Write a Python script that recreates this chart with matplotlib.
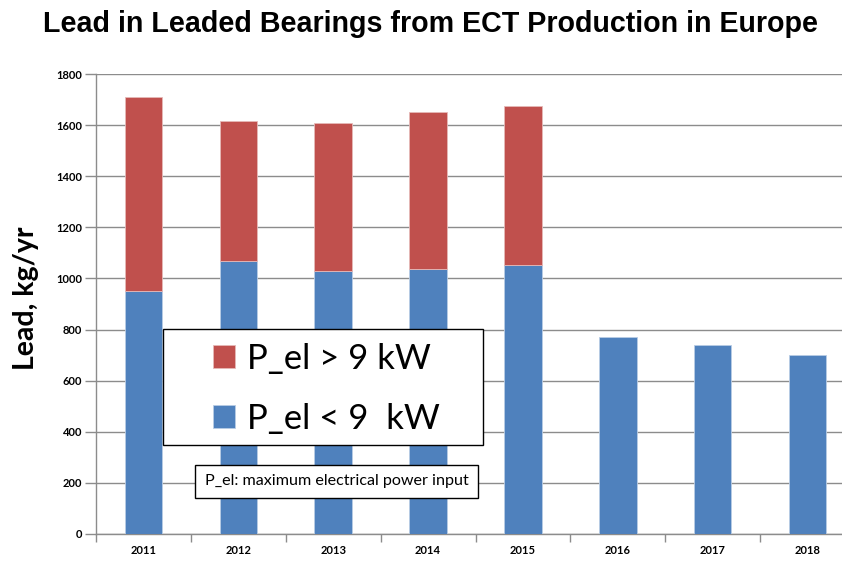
import matplotlib
matplotlib.use("Agg")
import matplotlib.pyplot as plt
from matplotlib.patches import Rectangle

years = ["2011", "2012", "2013", "2014", "2015", "2016", "2017", "2018"]
below_9kw = [951, 1069, 1028, 1036, 1052, 770, 739, 700]
above_9kw = [760, 548, 581, 614, 623, 0, 0, 0]
yticks = [0, 200, 400, 600, 800, 1000, 1200, 1400, 1600, 1800]

BLUE = "#4F81BD"
RED = "#C0504D"
GRID = "#8C8C8C"
W, H = 842, 561

fig = plt.figure(figsize=(W / 100, H / 100), dpi=100)
ax = fig.add_axes([96 / W, (H - 534) / H, 759 / W, (534 - 74) / H])

x = list(range(len(years)))
bw = 0.395
b1 = ax.bar(x, below_9kw, width=bw, color=BLUE, edgecolor="#B9CDE5", linewidth=0.6, zorder=3)
top_x = [i for i, v in enumerate(above_9kw) if v > 0]
b2 = ax.bar(top_x, [above_9kw[i] for i in top_x], bottom=[below_9kw[i] for i in top_x],
            width=bw, color=RED, edgecolor="#E6B9B8", linewidth=0.6, zorder=3)

ax.set_xlim(-0.5, len(years) - 0.5)
ax.set_ylim(0, 1800)
ax.set_yticks(yticks)
ax.set_yticklabels([str(v) for v in yticks], fontfamily="Lato", fontweight="bold", fontsize=8)
ax.yaxis.grid(True, color=GRID, linewidth=1.0, zorder=0)
ax.set_axisbelow(True)
ax.tick_params(axis="y", length=8, width=1, color=GRID, pad=2)

ax.set_xticks(x)
ax.set_xticklabels(years, fontfamily="Lato", fontweight="bold", fontsize=8)
ax.set_xticks([i - 0.5 for i in range(len(years) + 1)], minor=True)
ax.tick_params(axis="x", which="major", length=0, pad=8)
ax.tick_params(axis="x", which="minor", length=6, width=1, color=GRID)

for s in ["top", "right"]:
    ax.spines[s].set_visible(False)
for s in ["left", "bottom"]:
    ax.spines[s].set_color(GRID)
    ax.spines[s].set_linewidth(1.0)

fig.text(13 / W, 1 - 298 / H, "Lead, kg/yr", rotation=90, ha="left", va="center",
         fontfamily="Lato", fontweight="bold", fontsize=20.5)

fig.text(430 / W, 1 - 24 / H, "Lead in Leaded Bearings from ECT Production in Europe",
         ha="center", va="center", fontfamily="Liberation Sans", fontweight="bold", fontsize=20.6)

# legend frame drawn in figure pixels
frame = Rectangle((163 / W, 1 - 445 / H), 320 / W, 116 / H, transform=fig.transFigure,
                  facecolor="white", edgecolor="black", linewidth=1.0, zorder=4, clip_on=False)
ax.add_patch(frame)

leg = ax.legend([b2, b1], ["P_el > 9 kW", "P_el < 9  kW"], loc="upper left",
                bbox_to_anchor=(213 / W, 1 - 343 / H), bbox_transform=fig.transFigure,
                prop={"family": "Lato", "size": 25}, frameon=False,
                handlelength=0.64, handleheight=0.64,
                handletextpad=0.35, labelspacing=0.8, borderpad=0, borderaxespad=0)
leg.set_zorder(5)

fig.text(336.5 / W, 1 - 481.5 / H, "P_el: maximum electrical power input", ha="center", va="center",
         fontfamily="Lato", fontsize=11.6,
         bbox=dict(boxstyle="square,pad=0.6", facecolor="white", edgecolor="black", linewidth=1.0),
         zorder=6)

fig.savefig("out.png", dpi=100)
